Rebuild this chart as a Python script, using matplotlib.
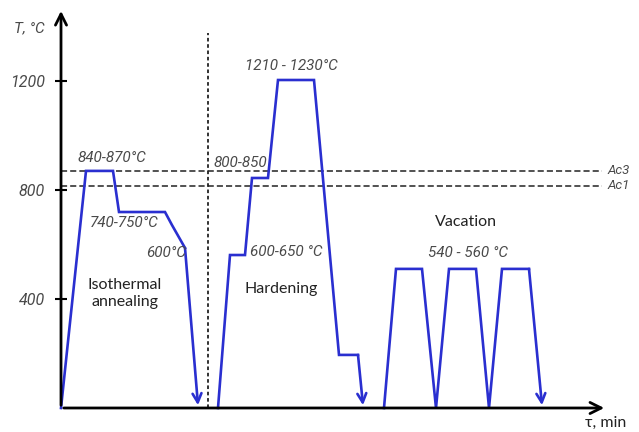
import matplotlib.pyplot as plt

# --- данные (время в условных единицах, температура в °C) ---
anneal_t = [0, 25, 52, 58, 104, 111, 124, 137]
anneal_T = [0, 871, 871, 720, 720, 672, 588, 10]

hard_t = [157, 169, 184, 191, 207, 217, 253, 278, 297, 302]
hard_T = [0, 562, 562, 845, 845, 1205, 1205, 195, 195, 10]

vac_t = [323, 335, 361, 375, 388, 415, 428, 441, 468, 481]
vac_T = [0, 511, 511, 0, 511, 511, 0, 511, 511, 10]

Ac3 = 871
Ac1 = 816
t_split = 147
yticks = [400, 800, 1200]

BLUE = '#2a2fd0'
GREY = '#4a4a4a'
NARROW = ['Roboto', 'DejaVu Sans']
PLAIN = ['Lato', 'DejaVu Sans']

fig = plt.figure(figsize=(6.39, 4.32), dpi=100)
ax = fig.add_axes([0, 0, 1, 1])
ax.set_xlim(-61, 578)
ax.set_ylim(-88.2, 1498.9)

for s in ['top', 'right', 'bottom']:
    ax.spines[s].set_visible(False)
ax.spines['left'].set_position(('data', 0))
ax.spines['left'].set_color('none')
ax.set_xticks([])
ax.set_yticks(yticks)
ax.set_yticklabels([str(v) for v in yticks], fontstyle='italic', color=GREY,
                   fontsize=11.5, family=NARROW)
ax.tick_params(axis='y', direction='inout', length=9, width=1.5, pad=7, color='black')

# оси со стрелками
ax.annotate('', xy=(0, 1469), xytext=(0, 0),
            arrowprops=dict(arrowstyle='->', lw=2, color='black', mutation_scale=20))
ax.annotate('', xy=(546, 0), xytext=(0, 0),
            arrowprops=dict(arrowstyle='->', lw=2, color='black', mutation_scale=20))

# пунктирные линии Ac3, Ac1 и разделитель
ax.plot([0, 541], [Ac3, Ac3], ls='--', color='#222222', lw=1.1, dashes=(4, 2))
ax.plot([0, 541], [Ac1, Ac1], ls='--', color='#222222', lw=1.1, dashes=(4, 2))
ax.plot([t_split, t_split], [0, 1379], color='#222222', lw=1.3, dashes=(2, 1.5))


def curve(t, T):
    ax.plot(t[:-1], T[:-1], color=BLUE, lw=1.9, solid_joinstyle='miter')
    ax.annotate('', xy=(t[-1], T[-1]), xytext=(t[-2], T[-2]),
                arrowprops=dict(arrowstyle='->', lw=1.9, color=BLUE, mutation_scale=16,
                                shrinkA=0, shrinkB=0))


curve(anneal_t, anneal_T)
curve(hard_t, hard_T)
curve(vac_t, vac_T)

ital = dict(fontstyle='italic', color=GREY, family=NARROW, va='center')
plain = dict(color='#222222', fontsize=11.5, family=PLAIN, va='center')

ax.text(-47, 1396, 'T, °C', fontsize=11, **ital)
ax.text(524, -55, 'τ, min', **plain)
ax.text(547, Ac3, 'Ac3', fontsize=9.5, **ital)
ax.text(547, Ac1, 'Ac1', fontsize=9.5, **ital)

ax.text(17, 918, '840-870°C', fontsize=11, **ital)
ax.text(29, 680, '740-750°C', fontsize=11, **ital)
ax.text(125, 569, '600°C', ha='right', fontsize=11, **ital)
ax.text(64, 422, 'Isothermal\nannealing', ha='center', linespacing=1.25, **plain)

ax.text(153, 900, '800-850', fontsize=11, **ital)
ax.text(184, 1256, '1210 - 1230°C', fontsize=11, **ital)
ax.text(189, 573, '600-650 °C', fontsize=11, **ital)
ax.text(184, 437, 'Hardening', **plain)

ax.text(374, 683, 'Vacation', **plain)
ax.text(367, 569, '540 - 560 °C', fontsize=11, **ital)

fig.savefig('out.png', dpi=100)
